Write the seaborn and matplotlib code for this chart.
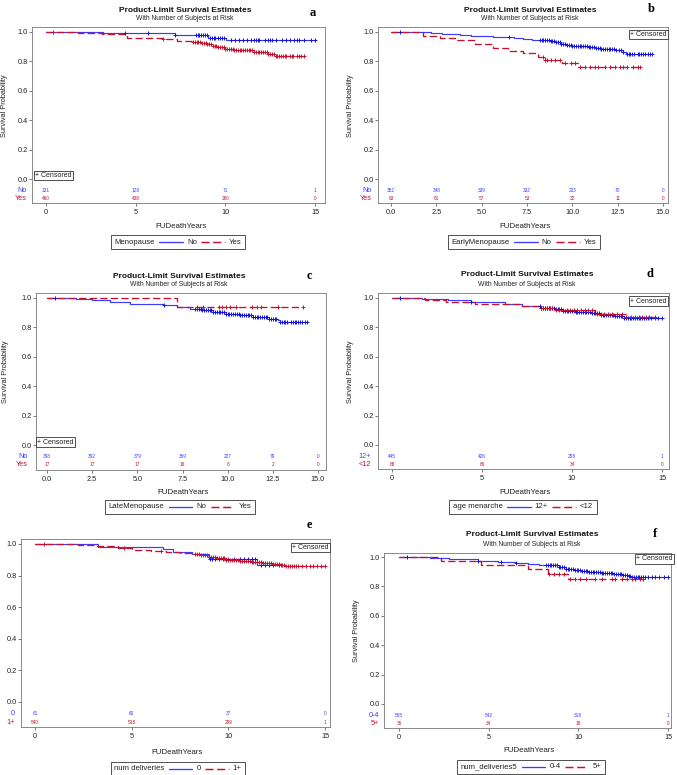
import numpy as np
import seaborn as sns
import matplotlib.pyplot as plt
from matplotlib.lines import Line2D
from matplotlib.offsetbox import AnchoredOffsetbox, HPacker, TextArea, DrawingArea

W, H = 677, 775
BLUE = '#3c3cff'
BLUE_MK = '#1414e0'
RED = '#c8102e'

# ---------------- data ----------------
risk_t4 = [0, 5, 10, 15]
risk_t7 = [0, 2.5, 5, 7.5, 10, 12.5, 15]

# (a) Menopause
a_no_t = [0, 3.2, 7.2, 9.05, 10.05]
a_no_s = [1.0, 0.99, 0.982, 0.958, 0.944]
a_no_end = 15.0
a_no_cens = [4.4, 5.7, 7.2, 8.35, 8.45, 8.55, 8.65, 8.75, 8.85, 8.95, 9.15, 9.25, 9.35, 9.45,
             9.6, 9.7, 9.8, 9.95, 10.3, 10.55, 10.75, 11.0, 11.2, 11.45, 11.6, 11.7, 11.8, 11.9,
             12.2, 12.4, 12.5, 12.6, 12.8, 13.15, 13.4, 13.6, 13.85, 14.0, 14.1, 14.4, 14.8, 15.0]
a_yes_t = [0, 1.8, 3.1, 4.5, 6.5, 7.3, 8.2, 8.7, 9.0, 9.3, 9.6, 10.0, 10.5, 11.0, 11.6, 12.0, 12.4, 12.8]
a_yes_s = [1.0, 0.995, 0.985, 0.96, 0.95, 0.94, 0.93, 0.924, 0.915, 0.905, 0.895, 0.885,
           0.88, 0.875, 0.866, 0.862, 0.853, 0.84]
a_yes_end = 14.4
a_yes_cens = [0.4, 6.5, 8.2, 8.3, 8.4, 8.5, 8.6, 8.7, 8.8, 8.9, 9.0, 9.1, 9.2, 9.3, 9.4, 9.5,
              9.6, 9.7, 9.8, 9.9, 10.0, 10.1, 10.2, 10.3, 10.4, 10.5, 10.6, 10.7, 10.8, 10.9,
              11.0, 11.1, 11.2, 11.3, 11.4, 11.5, 11.6, 11.7, 11.8, 11.9, 12.0, 12.1, 12.2,
              12.3, 12.4, 12.5, 12.6, 12.7, 12.8, 12.9, 13.0, 13.1, 13.2, 13.3, 13.4, 13.6,
              13.7, 13.8, 14.0, 14.1, 14.2, 14.4]
a_no_risk = [131, 128, 71, 1]
a_yes_risk = [460, 438, 260, 0]

# (b) EarlyMenopause
b_no_t = [0, 1.7, 2.2, 2.8, 3.3, 3.8, 4.4, 5.0, 5.6, 6.2, 6.8, 7.3, 7.8, 8.4, 8.8, 9.1,
          9.4, 9.7, 10.0, 10.9, 11.3, 11.6, 12.4, 12.8, 12.95]
b_no_s = [1.0, 0.997, 0.993, 0.988, 0.984, 0.98, 0.976, 0.972, 0.968, 0.963, 0.958, 0.953,
          0.948, 0.943, 0.937, 0.93, 0.92, 0.912, 0.905, 0.9, 0.89, 0.882, 0.875, 0.865, 0.853]
b_no_end = 14.4
b_no_cens = [0.5, 6.5, 8.2, 8.3, 8.4, 8.5, 8.6, 8.7, 8.8, 8.9, 9.0, 9.1, 9.2, 9.3, 9.4, 9.5,
             9.6, 9.7, 9.8, 9.9, 10.0, 10.1, 10.2, 10.3, 10.4, 10.5, 10.6, 10.7, 10.8, 10.9,
             11.0, 11.1, 11.2, 11.3, 11.4, 11.5, 11.6, 11.7, 11.8, 11.9, 12.0, 12.1, 12.2,
             12.3, 12.4, 12.6, 12.7, 12.8, 13.0, 13.1, 13.2, 13.3, 13.4, 13.6, 13.7, 13.8,
             13.9, 14.0, 14.2, 14.3, 14.4]
b_yes_t = [0, 1.78, 2.7, 3.62, 4.63, 5.6, 6.47, 7.3, 8.12, 8.5, 9.41, 10.33]
b_yes_s = [1.0, 0.975, 0.96, 0.948, 0.918, 0.89, 0.868, 0.855, 0.832, 0.812, 0.79, 0.762]
b_yes_end = 13.75
b_yes_cens = [8.4, 8.5, 8.6, 8.85, 9.05, 9.3, 9.6, 9.95, 10.15, 10.42, 10.7, 10.98, 11.25,
              11.44, 11.8, 12.08, 12.35, 12.63, 12.81, 12.99, 13.37, 13.64, 13.75]
b_no_risk = [352, 348, 339, 332, 203, 70, 0]
b_yes_risk = [63, 61, 57, 53, 32, 11, 0]

# (c) LateMenopause
c_no_t = [0, 1.6, 2.5, 3.5, 4.6, 6.4, 7.2, 7.9, 8.6, 9.2, 9.9, 10.7, 11.4, 12.3, 12.8, 12.9]
c_no_s = [1.0, 0.995, 0.986, 0.975, 0.962, 0.95, 0.939, 0.928, 0.917, 0.905, 0.894, 0.882,
          0.87, 0.86, 0.85, 0.836]
c_no_end = 14.4
c_no_cens = [0.42, 6.5, 8.2, 8.3, 8.4, 8.5, 8.6, 8.7, 8.8, 8.9, 9.0, 9.1, 9.2, 9.3, 9.4, 9.5,
             9.6, 9.7, 9.8, 9.9, 10.0, 10.1, 10.2, 10.3, 10.4, 10.5, 10.6, 10.7, 10.8, 10.9,
             11.0, 11.1, 11.2, 11.3, 11.4, 11.5, 11.6, 11.7, 11.8, 11.9, 12.0, 12.1, 12.2,
             12.3, 12.4, 12.5, 12.6, 12.7, 12.9, 13.0, 13.1, 13.2, 13.3, 13.5, 13.6, 13.7,
             13.8, 13.9, 14.0, 14.1, 14.3, 14.4]
c_yes_t = [0, 7.2]
c_yes_s = [1.0, 0.941]
c_yes_end = 14.15
c_yes_cens = [8.28, 8.65, 9.5, 9.67, 9.91, 10.13, 10.45, 11.32, 11.6, 11.82, 12.78, 14.15]
c_no_risk = [398, 392, 379, 369, 227, 79, 0]
c_yes_risk = [17, 17, 17, 16, 8, 2, 0]

# (d) age menarche
d_12_t = [0, 1.65, 2.2, 3.1, 4.4, 6.3, 7.2, 8.3, 9.05, 9.5, 10.2, 11.1, 11.6, 12.4, 12.9]
d_12_s = [1.0, 0.993, 0.99, 0.986, 0.97, 0.96, 0.945, 0.935, 0.922, 0.912, 0.903, 0.895,
          0.886, 0.878, 0.865]
d_12_end = 15.0
d_12_cens = [0.45, 4.4, 8.2, 8.3, 8.4, 8.5, 8.6, 8.7, 8.8, 8.9, 9.0, 9.1, 9.2, 9.3, 9.4, 9.5,
             9.6, 9.7, 9.8, 9.9, 10.0, 10.1, 10.2, 10.3, 10.4, 10.5, 10.6, 10.7, 10.8, 10.9,
             11.0, 11.1, 11.2, 11.3, 11.4, 11.5, 11.6, 11.7, 11.8, 11.9, 12.0, 12.1, 12.2,
             12.3, 12.4, 12.5, 12.6, 12.7, 12.8, 12.9, 13.0, 13.1, 13.2, 13.3, 13.4, 13.5,
             13.6, 13.7, 13.8, 13.9, 14.0, 14.1, 14.2, 14.4, 14.6, 14.8, 15.0]
d_lt12_t = [0, 1.83, 3.0, 4.6, 7.1, 8.3, 9.05, 11.3, 13.0]
d_lt12_s = [1.0, 0.985, 0.97, 0.962, 0.945, 0.93, 0.915, 0.888, 0.873]
d_lt12_end = 14.6
d_lt12_cens = [8.3, 8.4, 8.5, 8.6, 8.7, 8.8, 8.9, 9.1, 9.3, 9.5, 9.7, 9.9, 10.1, 10.3, 10.5,
               10.7, 10.9, 11.1, 11.4, 11.6, 11.8, 12.0, 12.2, 12.5, 12.8, 13.0, 13.3, 13.5,
               13.7, 13.9, 14.1, 14.3, 14.6]
d_12_risk = [445, 426, 258, 1]
d_lt12_risk = [68, 66, 34, 0]

# (e) num deliveries
e_0_t = [0, 3.24, 6.64, 7.16, 8.1, 9.0, 11.5]
e_0_s = [1.0, 0.984, 0.967, 0.951, 0.934, 0.905, 0.865]
e_0_end = 12.6
e_0_cens = [9.05, 9.15, 9.3, 9.5, 9.7, 10.0, 10.3, 10.6, 10.8, 11.0, 11.2, 11.4, 11.7, 11.9,
            12.1, 12.3, 12.6]
e_1p_t = [0, 1.7, 2.2, 3.2, 4.3, 5.0, 6.0, 6.8, 7.5, 8.3, 8.6, 9.0, 9.4, 9.9, 10.6, 11.2,
          11.8, 12.3, 12.7, 13.0]
e_1p_s = [1.0, 0.997, 0.993, 0.985, 0.975, 0.962, 0.955, 0.947, 0.94, 0.935, 0.93, 0.92,
          0.91, 0.9, 0.89, 0.885, 0.88, 0.875, 0.866, 0.86]
e_1p_end = 15.0
e_1p_cens = [0.45, 4.6, 6.5, 8.3, 8.4, 8.5, 8.6, 8.7, 8.8, 8.9, 9.0, 9.1, 9.2, 9.3, 9.4, 9.5,
             9.6, 9.7, 9.8, 9.9, 10.0, 10.1, 10.2, 10.3, 10.4, 10.5, 10.6, 10.7, 10.8, 10.9,
             11.0, 11.1, 11.2, 11.3, 11.4, 11.5, 11.6, 11.7, 11.8, 11.9, 12.0, 12.1, 12.2,
             12.3, 12.4, 12.5, 12.6, 12.7, 12.8, 12.9, 13.0, 13.1, 13.2, 13.3, 13.4, 13.5,
             13.6, 13.8, 14.0, 14.2, 14.4, 14.6, 14.8, 15.0]
e_0_risk = [61, 60, 37, 0]
e_1p_risk = [540, 518, 299, 1]

# (f) num_deliveries5
f_04_t = [0, 1.75, 2.77, 3.5, 4.4, 5.5, 6.5, 7.2, 7.8, 8.9, 9.3, 9.8, 10.2, 10.6, 11.3,
          12.0, 12.5, 12.8, 13.0]
f_04_s = [1.0, 0.993, 0.988, 0.984, 0.975, 0.966, 0.96, 0.95, 0.943, 0.93, 0.92, 0.91,
          0.903, 0.898, 0.89, 0.882, 0.876, 0.868, 0.862]
f_04_end = 15.0
f_04_cens = [0.42, 4.4, 5.7, 6.5, 8.2, 8.3, 8.4, 8.5, 8.6, 8.7, 8.8, 8.9, 9.0, 9.1, 9.2, 9.3,
             9.4, 9.5, 9.6, 9.7, 9.8, 9.9, 10.0, 10.1, 10.2, 10.3, 10.4, 10.5, 10.6, 10.7,
             10.8, 10.9, 11.0, 11.1, 11.2, 11.3, 11.4, 11.5, 11.6, 11.7, 11.8, 11.9, 12.0,
             12.1, 12.2, 12.3, 12.4, 12.5, 12.6, 12.7, 12.8, 12.9, 13.0, 13.1, 13.2, 13.3,
             13.4, 13.5, 13.6, 13.7, 13.9, 14.1, 14.3, 14.5, 14.8, 15.0]
f_5p_t = [0, 2.35, 4.6, 7.2, 8.3, 9.4]
f_5p_s = [1.0, 0.973, 0.943, 0.916, 0.887, 0.851]
f_5p_end = 13.6
f_5p_cens = [8.35, 8.63, 8.91, 9.18, 9.55, 9.84, 10.1, 10.4, 10.95, 11.32, 11.88, 12.06,
             12.44, 12.72, 13.0, 13.18, 13.46, 13.6]
f_04_risk = [565, 542, 318, 1]
f_5p_risk = [36, 34, 18, 0]

# ---------------- layout (pixels of the 677x775 picture) ----------------
PANELS = [
    dict(letter='a', letter_xy=(313, 13), frame=(32, 325, 27, 203), y10=(32, 179), x015=(46, 315),
         title_xy=(185, 10, 19), ylab_x=5, xlab_y=226, leg_xy=(178, 242), cens_box=('bl', 35, 175.5),
         var='Menopause', labels=['No', 'Yes'], label_x=27, risk_t=risk_t4, fmt='{:g}',
         groups=[(a_no_t, a_no_s, a_no_end, a_no_cens, a_no_risk),
                 (a_yes_t, a_yes_s, a_yes_end, a_yes_cens, a_yes_risk)]),
    dict(letter='b', letter_xy=(651, 9), frame=(378, 668, 27, 203), y10=(32, 179), x015=(391, 663),
         title_xy=(530, 10, 19), ylab_x=350, xlab_y=226, leg_xy=(524, 242), cens_box=('tr', 667, 34.5),
         var='EarlyMenopause', labels=['No', 'Yes'], label_x=372, risk_t=risk_t7, fmt='{:.1f}',
         groups=[(b_no_t, b_no_s, b_no_end, b_no_cens, b_no_risk),
                 (b_yes_t, b_yes_s, b_yes_end, b_yes_cens, b_yes_risk)]),
    dict(letter='c', letter_xy=(309, 276), frame=(36, 326, 293, 470), y10=(298, 445), x015=(47, 318),
         title_xy=(179, 276, 285), ylab_x=6, xlab_y=492, leg_xy=(180, 507), cens_box=('bl', 37, 442),
         var='LateMenopause', labels=['No', 'Yes'], label_x=28, risk_t=risk_t7, fmt='{:.1f}',
         groups=[(c_no_t, c_no_s, c_no_end, c_no_cens, c_no_risk),
                 (c_yes_t, c_yes_s, c_yes_end, c_yes_cens, c_yes_risk)]),
    dict(letter='d', letter_xy=(650, 274), frame=(378, 669, 293, 469), y10=(298, 445), x015=(392, 662),
         title_xy=(527, 275, 285), ylab_x=351, xlab_y=492, leg_xy=(523, 507), cens_box=('tr', 667, 301),
         var='age menarche', labels=['12+', '<12'], label_x=371, risk_t=risk_t4, fmt='{:g}',
         groups=[(d_12_t, d_12_s, d_12_end, d_12_cens, d_12_risk),
                 (d_lt12_t, d_lt12_s, d_lt12_end, d_lt12_cens, d_lt12_risk)]),
    dict(letter='e', letter_xy=(309, 525), frame=(21, 330, 539, 727), y10=(544, 702), x015=(35, 325),
         title_xy=None, ylab_x=None, xlab_y=752, leg_xy=(178, 769), cens_box=('tr', 329, 547.5),
         var='num deliveries', labels=['0', '1+'], label_x=15, risk_t=risk_t4, fmt='{:g}',
         groups=[(e_0_t, e_0_s, e_0_end, e_0_cens, e_0_risk),
                 (e_1p_t, e_1p_s, e_1p_end, e_1p_cens, e_1p_risk)]),
    dict(letter='f', letter_xy=(655, 534), frame=(384, 671, 553, 728), y10=(557, 704), x015=(399, 668),
         title_xy=(532, 534, 544), ylab_x=357, xlab_y=751, leg_xy=(531, 767), cens_box=('tr', 673, 559),
         var='num_deliveries5', labels=['0-4', '5+'], label_x=379, risk_t=risk_t4, fmt='{:g}',
         groups=[(f_04_t, f_04_s, f_04_end, f_04_cens, f_04_risk),
                 (f_5p_t, f_5p_s, f_5p_end, f_5p_cens, f_5p_risk)]),
]

sns.set_theme(style='white')
plt.rcParams['font.family'] = ['Liberation Sans', 'DejaVu Sans']

LINE_COL = [BLUE, RED]
MARK_COL = [BLUE_MK, RED]
LINE_STY = ['-', (0, (5.5, 2.5))]
LINE_W = [0.85, 0.95]
RISK_Y = [-0.075, -0.132]


def fx(x):
    return x / W


def fy(y):
    return 1 - y / H


def add_legend(fig, var, labels, cx, cy):
    tp = dict(size=5.6, family='Liberation Sans', color='#222222')
    kids = [TextArea(var, textprops=tp)]
    for lab, col, ls, lw in zip(labels, LINE_COL, LINE_STY, LINE_W):
        da = DrawingArea(17, 5, 0, 0)
        da.add_artist(Line2D([0, 17], [2.5, 2.5], color=col, lw=lw + 0.1, linestyle=ls))
        kids += [da, TextArea(lab, textprops=tp)]
    pack = HPacker(children=kids, align='center', pad=0, sep=3)
    box = AnchoredOffsetbox(loc='center', child=pack, pad=0.25, borderpad=0, frameon=True,
                            bbox_to_anchor=(fx(cx), fy(cy)), bbox_transform=fig.transFigure)
    box.patch.set_edgecolor('#333333')
    box.patch.set_linewidth(0.6)
    fig.add_artist(box)


fig = plt.figure(figsize=(W / 100, H / 100), dpi=100)

for p in PANELS:
    L, R, T, B = p['frame']
    y1, y0 = p['y10']
    x0, x15 = p['x015']
    ax = fig.add_axes([fx(L), fy(B), (R - L) / W, (B - T) / H])
    ppx = (x15 - x0) / 15.0
    ppy = float(y0 - y1)
    ax.set_xlim((L - x0) / ppx, (R - x0) / ppx)
    ax.set_ylim((y0 - B) / ppy, (y0 - T) / ppy)

    for k, (t, s, end, cens, risk) in enumerate(p['groups']):
        xs = list(t) + [end]
        ys = list(s) + [s[-1]]
        sns.lineplot(x=xs, y=ys, ax=ax, color=LINE_COL[k], lw=LINE_W[k], linestyle=LINE_STY[k],
                     drawstyle='steps-post', estimator=None, sort=False, legend=False)
        idx = np.searchsorted(t, cens, side='right') - 1
        cy = np.asarray(s)[idx]
        sns.scatterplot(x=cens, y=cy, ax=ax, marker='+', s=9, color=MARK_COL[k],
                        linewidth=0.7, legend=False, zorder=3)
        for tt, n in zip(p['risk_t'], risk):
            ax.text(tt, RISK_Y[k], str(n), ha='center', va='center', fontsize=3.4,
                    color=LINE_COL[k])
        fig.text(fx(p['label_x']), fy(y0 - RISK_Y[k] * ppy), p['labels'][k],
                 ha='right', va='center', fontsize=5.2, color=LINE_COL[k])

    ax.set_yticks([0, 0.2, 0.4, 0.6, 0.8, 1.0])
    ax.set_yticklabels(['0.0', '0.2', '0.4', '0.6', '0.8', '1.0'])
    ax.set_xticks(p['risk_t'])
    ax.set_xticklabels([p['fmt'].format(v) for v in p['risk_t']])
    ax.tick_params(axis='both', direction='out', length=2.0, width=0.5, colors='#444444',
                   labelsize=5.3, labelcolor='#222222', pad=1.2, left=True, bottom=True)
    ax.tick_params(axis='x', pad=2.2)
    for sp in ax.spines.values():
        sp.set_visible(True)
        sp.set_color('#777777')
        sp.set_linewidth(0.6)
    ax.set_xlabel('')
    ax.set_ylabel('')
    ax.grid(False)

    # censored key
    where, bx, by = p['cens_box']
    fig.text(fx(bx), fy(by), '+ Censored', ha='left' if where == 'bl' else 'right', va='center',
             fontsize=5.0, color='#222222',
             bbox=dict(boxstyle='square,pad=0.18', fc='white', ec='#333333', lw=0.6))

    # titles and labels
    if p['title_xy'] is not None:
        tx, ty1, ty2 = p['title_xy']
        fig.text(fx(tx), fy(ty1), 'Product-Limit Survival Estimates', ha='center', va='center',
                 fontsize=6.0, fontweight='bold', color='#111111')
        fig.text(fx(tx), fy(ty2), 'With Number of Subjects at Risk', ha='center', va='center',
                 fontsize=4.9, color='#222222')
    if p['ylab_x'] is not None:
        fig.text(fx(p['ylab_x']), fy((y0 + y1) / 2), 'Survival Probability', rotation=90,
                 ha='center', va='center', fontsize=5.3, color='#222222')
    fig.text(fx((L + R) / 2 + 2), fy(p['xlab_y']), 'FUDeathYears', ha='center', va='center',
             fontsize=5.7, color='#222222')
    lx, ly = p['letter_xy']
    fig.text(fx(lx), fy(ly), p['letter'], ha='center', va='center', fontsize=9,
             fontweight='bold', family='Liberation Serif', color='black')
    add_legend(fig, p['var'], p['labels'], *p['leg_xy'])

fig.savefig('out.png', dpi=100)
